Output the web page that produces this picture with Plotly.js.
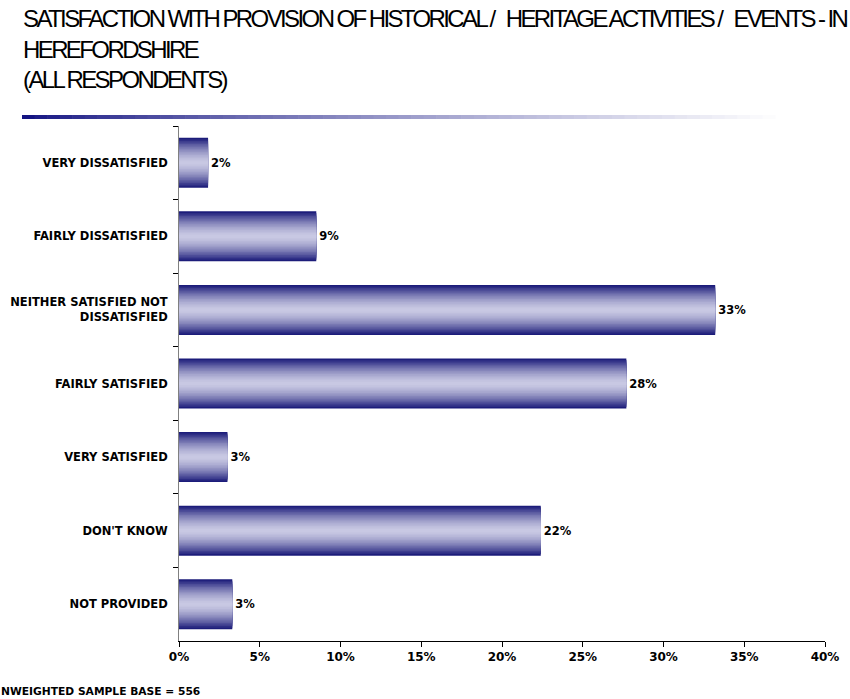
<!DOCTYPE html>
<html>
<head>
<meta charset="utf-8">
<script src="https://cdn.plot.ly/plotly-3.0.1.min.js"></script>
<style>
html,body{margin:0;padding:0;background:#fff;}
#chart{width:850px;height:699px;}
.annotation[data-index="0"] text,
.annotation[data-index="1"] text,
.annotation[data-index="2"] text{letter-spacing:-2.6px;}
</style>
</head>
<body>
<div id="chart"></div>
<script>
// ---- data ----
const categories = [
  "VERY DISSATISFIED",
  "FAIRLY DISSATISFIED",
  "NEITHER SATISFIED NOT<br>DISSATISFIED",
  "FAIRLY SATISFIED",
  "VERY SATISFIED",
  "DON'T KNOW",
  "NOT PROVIDED"
];
const values = [1.8, 8.5, 33.2, 27.7, 3.0, 22.4, 3.3];
const valueLabels = ["2%", "9%", "33%", "28%", "3%", "22%", "3%"];
const xTickVals = [0, 5, 10, 15, 20, 25, 30, 35, 40];
const xTickText = ["0%", "5%", "10%", "15%", "20%", "25%", "30%", "35%", "40%"];
const titleLines = [
  "SATISFACTION WITH PROVISION OF HISTORICAL /\u00A0\u00A0 HERITAGE ACTIVITIES /\u00A0\u00A0 EVENTS - IN",
  "HEREFORDSHIRE",
  "(ALL RESPONDENTS)"
];
const footnote = "NWEIGHTED SAMPLE BASE = 556";

// ---- styling helpers ----
const dark = [28, 28, 122];
const light = [202, 202, 228];
function mix(a, b, t) {
  return "rgb(" + a.map((v, i) => Math.round(v + (b[i] - v) * t)).join(",") + ")";
}

const plotL = 179, plotW = 646, plotT = 126, plotH = 515;
const px2x = p => (p - plotL) / plotW;
const px2y = p => 1 - (p - plotT) / plotH;

const barWidth = 0.68;
const steps = 16;
const traces = [];
for (let i = 0; i < steps; i++) {
  const frac = 1 - i / steps;
  const t = Math.pow(frac, 1.6);
  traces.push({
    type: "bar",
    orientation: "h",
    y: categories,
    x: values,
    width: barWidth * frac,
    marker: { color: mix(light, dark, t), line: { width: 0 } },
    hoverinfo: "skip",
    showlegend: false
  });
}
traces.push({
  type: "bar",
  orientation: "h",
  y: categories,
  x: values,
  width: barWidth,
  marker: { color: "rgba(0,0,0,0)" },
  text: valueLabels,
  textposition: "outside",
  cliponaxis: false,
  textfont: { family: "DejaVu Sans", size: 11.5, color: "#000", weight: "bold" },
  hoverinfo: "skip",
  showlegend: false
});

// gradient underline below the title
const shapes = [];
const x0px = 22, x1px = 775, segs = 60, ypx = 117;
for (let s = 0; s < segs; s++) {
  const a = x0px + (x1px - x0px) * s / segs;
  const b = x0px + (x1px - x0px) * (s + 1) / segs;
  const t = s / segs;
  shapes.push({
    type: "line", xref: "paper", yref: "paper",
    x0: px2x(a), x1: px2x(b) + 0.001,
    y0: px2y(ypx), y1: px2y(ypx),
    line: { color: mix([20, 20, 130], [255, 255, 255], Math.pow(t, 0.8)), width: 4 }
  });
}

const titleCenters = [19, 50, 79];
const annotations = titleLines.map((txt, i) => ({
  text: txt, xref: "paper", yref: "paper",
  x: px2x(22), xanchor: "left", align: "left",
  y: px2y(titleCenters[i]), yanchor: "middle",
  showarrow: false, borderpad: 0,
  font: { family: "Liberation Sans, Arial", size: 24, color: "#000" }
}));
annotations.push({
  text: footnote, xref: "paper", yref: "paper",
  x: px2x(0), xanchor: "left", align: "left",
  y: px2y(691), yanchor: "middle",
  showarrow: false, borderpad: 0,
  font: { family: "DejaVu Sans", size: 10.7, color: "#000", weight: "bold" }
});

const layout = {
  width: 850, height: 699,
  paper_bgcolor: "#fff", plot_bgcolor: "#fff",
  margin: { l: plotL, r: 850 - plotL - plotW, t: plotT, b: 699 - plotT - plotH },
  barmode: "overlay",
  showlegend: false,
  xaxis: {
    range: [0, 40],
    tickvals: xTickVals, ticktext: xTickText,
    showgrid: false, zeroline: false,
    showline: true, linecolor: "#000", linewidth: 1,
    ticks: "outside", ticklen: 5, tickcolor: "#000",
    tickfont: { family: "DejaVu Sans", size: 12, color: "#000", weight: "bold" },
    fixedrange: true
  },
  yaxis: {
    type: "category",
    autorange: "reversed",
    showgrid: false, zeroline: false,
    showline: true, linecolor: "#808080", linewidth: 1,
    ticks: "outside", ticklen: 5, tickcolor: "#000",
    tickson: "boundaries",
    ticklabelstandoff: 8,
    tickfont: { family: "DejaVu Sans", size: 11.5, color: "#000", weight: "bold" },
    fixedrange: true
  },
  shapes: shapes,
  annotations: annotations
};

Plotly.newPlot("chart", traces, layout, { staticPlot: true, displayModeBar: false });
</script>
</body>
</html>
